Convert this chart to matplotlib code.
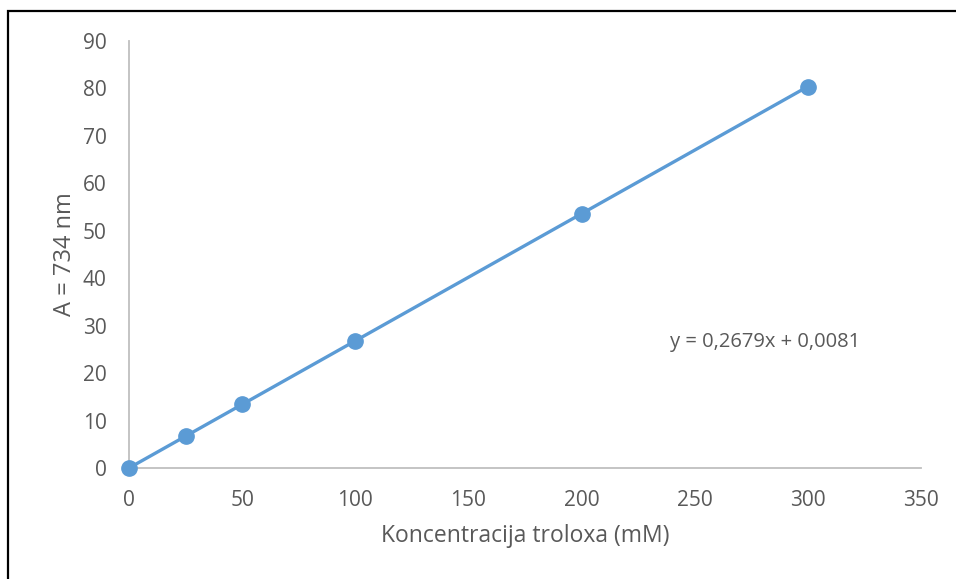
import matplotlib
matplotlib.use('Agg')
import matplotlib.pyplot as plt
from matplotlib.patches import Rectangle

plt.rcParams['font.family'] = ['Open Sans', 'DejaVu Sans']

# data
conc = [0, 25, 50, 100, 200, 300]
absorb = [0, 6.7, 13.4, 26.8, 53.6, 80.4]
xticks = [0, 50, 100, 150, 200, 250, 300, 350]
yticks = [0, 10, 20, 30, 40, 50, 60, 70, 80, 90]
eq_text = 'y = 0,2679x + 0,0081'

blue = '#5B9BD5'
grey = '#595959'
axis_c = '#BFBFBF'

W, H = 956, 579
fig = plt.figure(figsize=(W/100, H/100), dpi=100)
fig.patches.append(Rectangle((8/W, -0.1), 1.2, (H-11)/H + 0.1, transform=fig.transFigure,
                             fill=False, edgecolor='black', linewidth=1.6))
ax = fig.add_axes([129/W, 111/H, 792/W, 427/H])

ax.plot(conc, absorb, color=blue, lw=2.4, marker='o', ms=11, zorder=3, clip_on=False)

ax.set_xlim(0, 350)
ax.set_ylim(0, 90)
ax.set_xticks(xticks)
ax.set_yticks(yticks)
for s in ['top', 'right']:
    ax.spines[s].set_visible(False)
for s in ['left', 'bottom']:
    ax.spines[s].set_color(axis_c)
    ax.spines[s].set_linewidth(1.3)
ax.tick_params(length=0, labelsize=15, colors=grey)
ax.tick_params(axis='y', pad=16)
ax.tick_params(axis='x', pad=16)

ax.set_xlabel('Koncentracija troloxa (mM)', fontsize=16.5, color=grey, labelpad=9)
ax.set_ylabel('A = 734 nm', fontsize=17, color=grey, labelpad=4)
ax.text(281, 26.6, eq_text, fontsize=14.5, color=grey, ha='center', va='center')

fig.savefig('out.png', dpi=100)
